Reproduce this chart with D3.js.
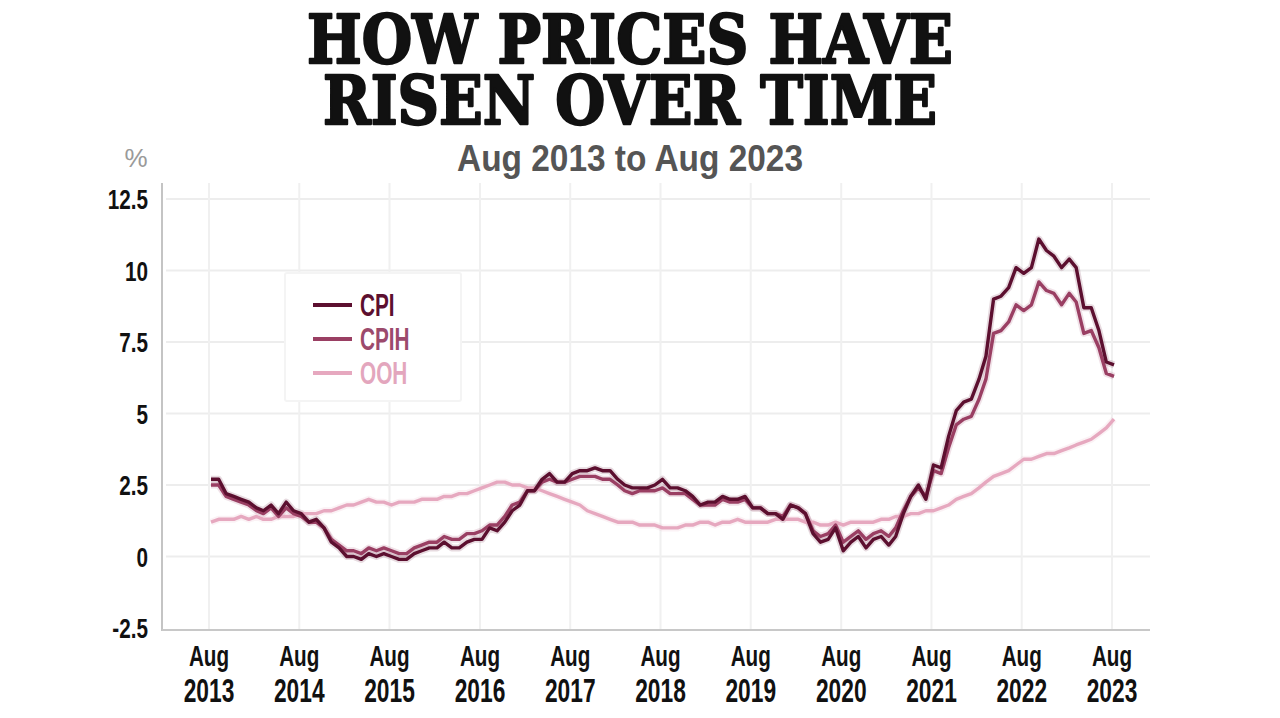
<!DOCTYPE html>
<html>
<head>
<meta charset="utf-8">
<script src="https://cdn.jsdelivr.net/npm/d3@7"></script>
<style>
  html, body { margin: 0; padding: 0; background: #fff; }
  svg { display: block; }
</style>
</head>
<body>
<svg id="chart" width="1280" height="718"></svg>
<script>
// ---------------- DATA ----------------
const titleLines = ["HOW PRICES HAVE", "RISEN OVER TIME"];
const subtitle = "Aug 2013 to Aug 2023";
const yTicks = [-2.5, 0, 2.5, 5, 7.5, 10, 12.5];
const yTickLabels = ["-2.5", "0", "2.5", "5", "7.5", "10", "12.5"];
const xTickYears = [2013, 2014, 2015, 2016, 2017, 2018, 2019, 2020, 2021, 2022, 2023];
const xTickMonth = "Aug";
const seriesNames = ["CPI", "CPIH", "OOH"];

// monthly 12-month rates, Aug 2013 .. Aug 2023
const cpi = [
  2.7, 2.7, 2.2, 2.1, 2.0,
  1.9, 1.7, 1.6, 1.8, 1.5, 1.9, 1.6, 1.5, 1.2, 1.3, 1.0, 0.5,
  0.3, 0.0, 0.0, -0.1, 0.1, 0.0, 0.1, 0.0, -0.1, -0.1, 0.1, 0.2,
  0.3, 0.3, 0.5, 0.3, 0.3, 0.5, 0.6, 0.6, 1.0, 0.9, 1.2, 1.6,
  1.8, 2.3, 2.3, 2.7, 2.9, 2.6, 2.6, 2.9, 3.0, 3.0, 3.1, 3.0,
  3.0, 2.7, 2.5, 2.4, 2.4, 2.4, 2.5, 2.7, 2.4, 2.4, 2.3, 2.1,
  1.8, 1.9, 1.9, 2.1, 2.0, 2.0, 2.1, 1.7, 1.7, 1.5, 1.5, 1.3,
  1.8, 1.7, 1.5, 0.8, 0.5, 0.6, 1.0, 0.2, 0.5, 0.7, 0.3, 0.6,
  0.7, 0.4, 0.7, 1.5, 2.1, 2.5, 2.0, 3.2, 3.1, 4.2, 5.1, 5.4,
  5.5, 6.2, 7.0, 9.0, 9.1, 9.4, 10.1, 9.9, 10.1, 11.1, 10.7, 10.5,
  10.1, 10.4, 10.1, 8.7, 8.7, 7.9, 6.8, 6.7
];
const cpih = [
  2.5, 2.5, 2.1, 2.0, 1.9,
  1.8, 1.6, 1.5, 1.7, 1.4, 1.7, 1.5, 1.4, 1.2, 1.2, 1.0, 0.6,
  0.4, 0.2, 0.2, 0.1, 0.3, 0.2, 0.3, 0.2, 0.1, 0.1, 0.3, 0.4,
  0.5, 0.5, 0.7, 0.6, 0.6, 0.8, 0.8, 0.9, 1.1, 1.1, 1.4, 1.8,
  1.9, 2.3, 2.3, 2.6, 2.7, 2.6, 2.6, 2.7, 2.8, 2.8, 2.8, 2.7,
  2.7, 2.5, 2.3, 2.2, 2.3, 2.3, 2.3, 2.4, 2.2, 2.2, 2.2, 2.0,
  1.8, 1.8, 1.8, 2.0, 1.9, 1.9, 2.0, 1.7, 1.7, 1.5, 1.5, 1.4,
  1.8, 1.7, 1.5, 0.9, 0.7, 0.8, 1.1, 0.5, 0.7, 0.9, 0.6, 0.8,
  0.9, 0.7, 1.0, 1.6, 2.1, 2.4, 2.1, 3.0, 2.9, 3.8, 4.6, 4.8,
  4.9, 5.5, 6.2, 7.8, 7.9, 8.2, 8.8, 8.6, 8.8, 9.6, 9.3, 9.2,
  8.8, 9.2, 8.9, 7.8, 7.9, 7.3, 6.4, 6.3
];
const ooh = [
  1.2, 1.3, 1.3, 1.3, 1.4,
  1.3, 1.4, 1.3, 1.3, 1.4, 1.4, 1.4, 1.5, 1.5, 1.5, 1.6, 1.6,
  1.7, 1.8, 1.8, 1.9, 2.0, 1.9, 1.9, 1.8, 1.9, 1.9, 1.9, 2.0,
  2.0, 2.0, 2.1, 2.1, 2.2, 2.2, 2.3, 2.4, 2.5, 2.6, 2.6, 2.5,
  2.5, 2.4, 2.4, 2.3, 2.2, 2.1, 2.0, 1.9, 1.8, 1.6, 1.5, 1.4,
  1.3, 1.2, 1.2, 1.2, 1.1, 1.1, 1.1, 1.0, 1.0, 1.0, 1.1, 1.1,
  1.2, 1.2, 1.1, 1.2, 1.2, 1.3, 1.2, 1.2, 1.2, 1.2, 1.3, 1.3,
  1.3, 1.3, 1.2, 1.2, 1.1, 1.1, 1.2, 1.1, 1.2, 1.2, 1.2, 1.2,
  1.3, 1.3, 1.4, 1.4, 1.5, 1.5, 1.6, 1.6, 1.7, 1.8, 2.0, 2.1,
  2.2, 2.4, 2.6, 2.8, 2.9, 3.0, 3.2, 3.4, 3.4, 3.5, 3.6, 3.6,
  3.7, 3.8, 3.9, 4.0, 4.1, 4.3, 4.5, 4.8
];

// ---------------- STYLE ----------------
const lineColors = { CPI: "#5c0f2f", CPIH: "#9a3f63", OOH: "#e6a8bf" };
const textColors = { CPI: "#5c0f2f", CPIH: "#9c4a6c", OOH: "#e3a6bd" };
const sans = "'Liberation Sans', Arial, sans-serif";

const svg = d3.select("#chart");

// scales
const startDate = new Date(2013, 7, 1);
const endDate = new Date(2023, 7, 1);
const months = d3.timeMonth.range(startDate, d3.timeMonth.offset(endDate, 1));
const x = d3.scaleTime().domain([startDate, endDate]).range([211, 1114]);
const y = d3.scaleLinear().domain([-2.5, 12.5]).range([628, 199]);
const plotLeft = 162, plotRight = 1150, plotTop = 183, plotBottom = 630;

// title (one text element, two lines)
const title = svg.append("text")
  .attr("text-anchor", "middle")
  .attr("font-family", "'DejaVu Serif', serif")
  .attr("font-weight", "900")
  .attr("font-size", 68)
  .attr("fill", "#111")
  .attr("stroke", "#111").attr("stroke-width", 2.4)
  .attr("stroke-linejoin", "round");
title.selectAll("tspan").data(titleLines).join("tspan")
  .attr("x", 630).attr("y", (d, i) => 63 + i * 61)
  .attr("textLength", (d, i) => i === 0 ? 646 : 614)
  .attr("lengthAdjust", "spacingAndGlyphs")
  .text(d => d);

svg.append("text")
  .attr("x", 630).attr("y", 171)
  .attr("text-anchor", "middle")
  .attr("font-family", sans).attr("font-weight", "bold")
  .attr("font-size", 37).attr("fill", "#555")
  .attr("textLength", 346).attr("lengthAdjust", "spacingAndGlyphs")
  .text(subtitle);

svg.append("text")
  .attr("x", 136).attr("y", 167)
  .attr("text-anchor", "middle")
  .attr("font-family", sans)
  .attr("font-size", 26).attr("fill", "#9a9a9a")
  .text("%");

// grid
const g = svg.append("g");
g.selectAll("line.hgrid").data(yTicks.filter(v => v > -2.5)).join("line")
  .attr("class", "hgrid")
  .attr("x1", plotLeft + 4).attr("x2", plotRight)
  .attr("y1", d => y(d)).attr("y2", d => y(d))
  .attr("stroke", "#ededed").attr("stroke-width", 2);

const xTickDates = xTickYears.map(yr => new Date(yr, 7, 1));
g.selectAll("line.vgrid").data(xTickDates).join("line")
  .attr("class", "vgrid")
  .attr("x1", d => x(d) - 2).attr("x2", d => x(d) - 2)
  .attr("y1", plotTop).attr("y2", plotBottom)
  .attr("stroke", "#f0f0f0").attr("stroke-width", 2);

// axis lines
g.append("line").attr("x1", plotLeft).attr("x2", plotLeft)
  .attr("y1", plotTop).attr("y2", plotBottom + 1)
  .attr("stroke", "#c4c4c4").attr("stroke-width", 2);
g.append("line").attr("x1", plotLeft).attr("x2", plotRight)
  .attr("y1", plotBottom).attr("y2", plotBottom)
  .attr("stroke", "#c8c8c8").attr("stroke-width", 2);

// y tick labels (condensed with a horizontal scale)
svg.selectAll("g.ytick").data(yTicks).join("g")
  .attr("class", "ytick")
  .attr("transform", d => `translate(148,${y(d) + 10}) scale(0.74,1)`)
  .append("text")
  .attr("text-anchor", "end")
  .attr("font-family", sans).attr("font-weight", "bold")
  .attr("font-size", 28).attr("fill", "#111")
  .text((d, i) => yTickLabels[i]);

// x tick labels: "Aug" + year in one text element
const xt = svg.selectAll("g.xtick").data(xTickDates).join("g")
  .attr("class", "xtick")
  .attr("transform", d => `translate(${x(d) - 2},0) scale(0.69,1)`)
  .append("text")
  .attr("text-anchor", "middle")
  .attr("font-family", sans).attr("font-weight", "bold")
  .attr("fill", "#111");
xt.append("tspan").attr("x", 0).attr("y", 666).attr("font-size", 30).text(xTickMonth);
xt.append("tspan").attr("x", 0).attr("y", 702).attr("font-size", 33).text(d => d.getFullYear());

// legend
const legend = svg.append("g");
legend.append("rect")
  .attr("x", 285).attr("y", 273).attr("width", 176).attr("height", 128)
  .attr("fill", "#fff").attr("stroke", "#f4f4f4").attr("stroke-width", 2).attr("rx", 2);
const li = legend.selectAll("g.li").data(seriesNames).join("g")
  .attr("class", "li")
  .attr("transform", (d, i) => `translate(0,${305 + i * 34})`);
li.append("line").attr("x1", 313).attr("x2", 352).attr("y1", 0).attr("y2", 0)
  .attr("stroke", d => lineColors[d]).attr("stroke-width", 4);
li.append("g").attr("transform", "translate(360,11) scale(0.67,1)")
  .append("text")
  .attr("font-family", sans).attr("font-weight", "bold")
  .attr("font-size", 31).attr("fill", d => textColors[d]).text(d => d);

// lines
const series = [
  { name: "OOH", values: ooh },
  { name: "CPIH", values: cpih },
  { name: "CPI", values: cpi }
];
const line = d3.line()
  .x((d, i) => x(months[i]))
  .y(d => y(d));

const lg = svg.append("g");
lg.selectAll("path.halo").data(series).join("path")
  .attr("class", "halo")
  .attr("d", d => line(d.values))
  .attr("fill", "none")
  .attr("stroke", d => lineColors[d.name])
  .attr("stroke-opacity", 0.15)
  .attr("stroke-width", 7)
  .attr("stroke-linejoin", "round");
lg.selectAll("path.series").data(series).join("path")
  .attr("class", "series")
  .attr("d", d => line(d.values))
  .attr("fill", "none")
  .attr("stroke", d => lineColors[d.name])
  .attr("stroke-width", 3.4)
  .attr("stroke-linejoin", "round");
</script>
</body>
</html>
